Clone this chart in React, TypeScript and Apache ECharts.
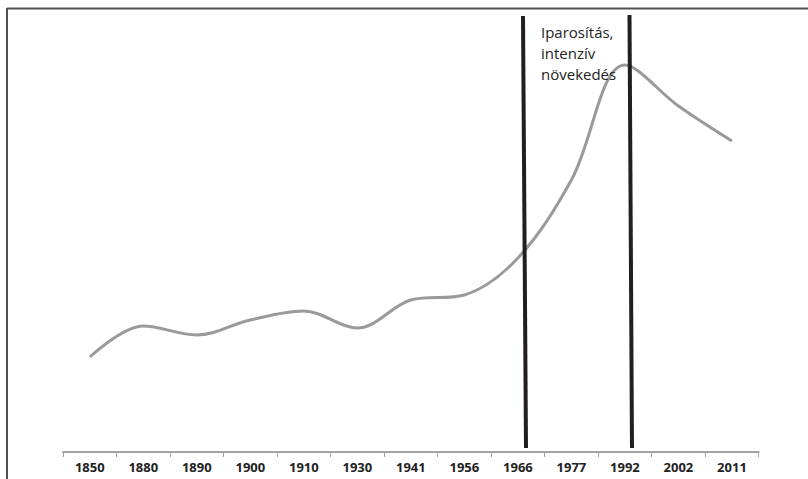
import React, { useEffect, useRef } from "react";
import * as echarts from "echarts";

const years = ["1850", "1880", "1890", "1900", "1910", "1930", "1941", "1956", "1966", "1977", "1992", "2002", "2011"];
const values = [47.5, 63, 58.5, 66, 70.5, 62, 76, 78.5, 97, 136, 193.5, 173, 155.5];
const annotation = "Iparosítás,\nintenzív\nnövekedés";

export default function App() {
  const ref = useRef<HTMLDivElement>(null);
  useEffect(() => {
    if (!ref.current) return;
    const chart = echarts.init(ref.current, null, { renderer: "svg" });
    chart.setOption({
      animation: false,
      backgroundColor: "#ffffff",
      grid: { left: 63, right: 49.3, top: 52, bottom: 27 },
      xAxis: {
        type: "category",
        data: years,
        boundaryGap: true,
        axisLine: { lineStyle: { color: "#a3a3a3", width: 2 } },
        axisTick: { show: true, length: 5, lineStyle: { color: "#a3a3a3", width: 1 } },
        axisLabel: {
          color: "#222222",
          fontFamily: "Open Sans",
          fontWeight: "bold",
          fontSize: 13,
          margin: 8,
          interval: 0,
        },
      },
      yAxis: {
        type: "value",
        min: 0,
        max: 200,
        show: false,
        splitLine: { show: false },
      },
      series: [
        {
          type: "line",
          data: values,
          smooth: 0.35,
          symbol: "none",
          lineStyle: { color: "#9a9a9a", width: 3 },
        },
      ],
      graphic: [
        { type: "line", z: 100, shape: { x1: 7, y1: 8.5, x2: 808, y2: 8.5 }, style: { stroke: "#505050", lineWidth: 2 } },
        { type: "line", z: 100, shape: { x1: 7, y1: 8, x2: 7, y2: 479 }, style: { stroke: "#505050", lineWidth: 2 } },
        { type: "line", z: 100, shape: { x1: 523, y1: 16, x2: 526, y2: 448 }, style: { stroke: "#231f20", lineWidth: 4 } },
        { type: "line", z: 100, shape: { x1: 629.5, y1: 15, x2: 632, y2: 448 }, style: { stroke: "#231f20", lineWidth: 4 } },
        {
          type: "text",
          z: 100,
          left: 541,
          top: 21,
          style: {
            text: annotation,
            font: "15px 'Open Sans'",
            lineHeight: 21,
            fill: "#222222",
          },
        },
      ],
    });
    return () => chart.dispose();
  }, []);
  return <div ref={ref} style={{ position: "absolute", left: 0, top: 0, width: 808, height: 479 }} />;
}
